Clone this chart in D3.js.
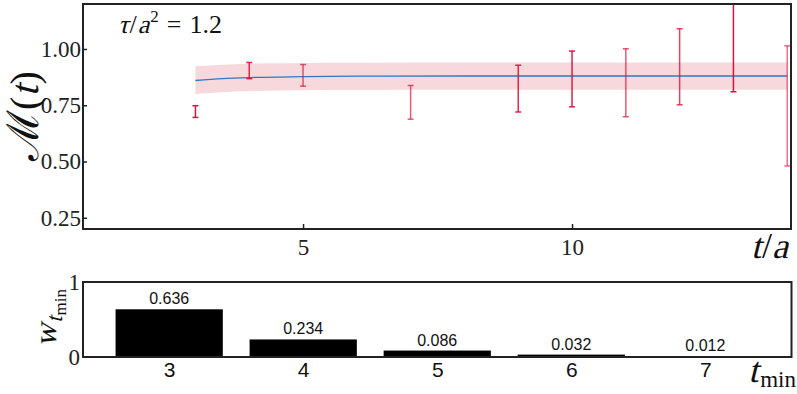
<!DOCTYPE html>
<html>
<head>
<meta charset="utf-8">
<script src="https://cdn.jsdelivr.net/npm/d3@7.9.0/dist/d3.min.js"></script>
<style>
  body { margin: 0; background: #fff; }
  svg { display: block; }
</style>
</head>
<body>
<svg id="chart" width="797" height="394"></svg>
<script>
// measured points
const tVals = [3, 4, 5, 7, 9, 10, 11, 12, 13, 14];
const mVals = [0.722, 0.904, 0.883, 0.763, 0.824, 0.867, 0.850, 0.921, 1.03, 0.747];
const mErrs = [0.026, 0.036, 0.048, 0.075, 0.104, 0.124, 0.151, 0.169, 0.22, 0.267];
const barAlpha = [1, 0.9, 0.7, 0.7, 0.9, 0.95, 0.7, 0.8, 1, 0.6];

// fit band
const fitT = [3, 3.5, 4, 5, 6, 8, 10, 12, 14];
const fitMid = [0.860, 0.868, 0.873, 0.877, 0.879, 0.880, 0.880, 0.880, 0.880];
const fitLo = [0.800, 0.808, 0.813, 0.817, 0.818, 0.819, 0.819, 0.819, 0.819];
const fitHi = [0.923, 0.930, 0.935, 0.938, 0.939, 0.940, 0.940, 0.940, 0.940];

// weights per t_min
const tMin = [3, 4, 5, 6, 7];
const weights = [0.636, 0.234, 0.086, 0.032, 0.012];
const weightLabels = ['0.636', '0.234', '0.086', '0.032', '0.012'];

const topXTicks = [5, 10];
const topYTicks = [0.25, 0.50, 0.75, 1.00];

const SERIF = '"Liberation Serif", "DejaVu Serif", serif';
const SANS = '"Liberation Sans", "DejaVu Sans", sans-serif';

const svg = d3.select('#chart');
const frameColor = '#222';

// lays out math-ish label pieces; italic pieces get a skew since no serif italic face is around
function mathLabel(parts, x, y, anchor, rot) {
  const g = svg.append('g');
  let cx = 0;
  parts.forEach(p => {
    const t = g.append('text')
      .attr('font-family', SERIF)
      .attr('font-size', p.size)
      .attr('fill', '#111')
      .text(p.s);
    const w = t.node().getComputedTextLength();
    t.attr('transform', `translate(${cx},${p.dy || 0})` + (p.it ? ' skewX(-14)' : ''));
    cx += w + (p.gap || 0);
  });
  const off = anchor === 'end' ? -cx : anchor === 'middle' ? -cx / 2 : 0;
  g.attr('transform', `translate(${x},${y}) rotate(${rot || 0}) translate(${off},0)`);
  return g;
}

// ---------- top panel ----------
const x = d3.scaleLinear().domain([0.91, 14.07]).range([83, 791]);
const y = d3.scaleLinear().domain([0.2, 1.2]).range([229, 4]);

svg.append('clipPath').attr('id', 'clipTop')
  .append('rect').attr('x', 83).attr('y', 4).attr('width', 708).attr('height', 225);

const plot = svg.append('g').attr('clip-path', 'url(#clipTop)');

const fit = fitT.map((t, i) => ({ t, mid: fitMid[i], lo: fitLo[i], hi: fitHi[i] }));

plot.append('path')
  .datum(fit)
  .attr('d', d3.area().x(d => x(d.t)).y0(d => y(d.lo)).y1(d => y(d.hi)).curve(d3.curveMonotoneX))
  .attr('fill', '#f7d9dd');

plot.append('path')
  .datum(fit)
  .attr('d', d3.line().x(d => x(d.t)).y(d => y(d.mid)).curve(d3.curveMonotoneX))
  .attr('fill', 'none')
  .attr('stroke', '#2a7bc0')
  .attr('stroke-width', 1.3);

const pts = tVals.map((t, i) => ({ t, m: mVals[i], e: mErrs[i], a: barAlpha[i] }));
const eb = plot.selectAll('g.eb').data(pts).join('g')
  .attr('class', 'eb')
  .attr('stroke', '#dc143c')
  .attr('stroke-opacity', d => d.a)
  .attr('stroke-width', 1.5);
eb.append('line')
  .attr('x1', d => x(d.t)).attr('x2', d => x(d.t))
  .attr('y1', d => y(d.m - d.e)).attr('y2', d => y(d.m + d.e));
eb.append('line')
  .attr('x1', d => x(d.t) - 3).attr('x2', d => x(d.t) + 3)
  .attr('y1', d => y(d.m - d.e)).attr('y2', d => y(d.m - d.e));
eb.append('line')
  .attr('x1', d => x(d.t) - 3).attr('x2', d => x(d.t) + 3)
  .attr('y1', d => y(d.m + d.e)).attr('y2', d => y(d.m + d.e));

// axes (inward ticks)
const xAxisTop = svg.append('g').attr('transform', 'translate(0,229)')
  .call(d3.axisBottom(x).tickValues(topXTicks).tickSizeInner(-5).tickSizeOuter(0).tickPadding(10));
xAxisTop.attr('font-family', SERIF).attr('font-size', 23);
xAxisTop.select('.domain').remove();
xAxisTop.selectAll('text').attr('fill', '#222');
xAxisTop.selectAll('line').attr('stroke', frameColor).attr('stroke-width', 1.5);

const yAxisTop = svg.append('g').attr('transform', 'translate(83,0)')
  .call(d3.axisLeft(y).tickValues(topYTicks).tickFormat(d3.format('.2f')).tickSizeInner(-4).tickSizeOuter(0).tickPadding(2));
yAxisTop.attr('font-family', SERIF).attr('font-size', 23);
yAxisTop.select('.domain').remove();
yAxisTop.selectAll('text').attr('fill', '#222');
yAxisTop.selectAll('line').attr('stroke', frameColor).attr('stroke-width', 1.5);

svg.append('rect').attr('x', 83).attr('y', 4).attr('width', 708).attr('height', 225)
  .attr('fill', 'none').attr('stroke', frameColor).attr('stroke-width', 2);

// title  τ/a² = 1.2
mathLabel([
  { s: 'τ', it: true, size: 26, gap: 1 },
  { s: '/', size: 26, gap: 1 },
  { s: 'a', it: true, size: 26, gap: 1 },
  { s: '2', size: 17, dy: -11, gap: 8 },
  { s: '=', size: 26, gap: 8 },
  { s: '1.2', size: 26 }
], 118, 33, 'start');

// y label  ℳ(t)
mathLabel([
  { s: 'ℳ', size: 44 },
  { s: '(', size: 40 },
  { s: 't', it: true, size: 40, gap: 1 },
  { s: ')', size: 40 }
], 38, 116, 'middle', -90);

// x label  t/a
mathLabel([
  { s: 't', it: true, size: 36, gap: 1 },
  { s: '/', size: 36 },
  { s: 'a', it: true, size: 36, gap: 2 }
], 790, 258, 'end');

// ---------- bottom panel ----------
const xb = d3.scaleLinear().domain([2.357, 7.643]).range([83, 791.5]);
const yb = d3.scaleLinear().domain([0, 1]).range([357, 282]);
const bw = 0.8;

const bars = tMin.map((t, i) => ({ t, w: weights[i], lab: weightLabels[i] }));

svg.selectAll('rect.bar').data(bars).join('rect')
  .attr('class', 'bar')
  .attr('x', d => xb(d.t - bw / 2))
  .attr('width', d => xb(d.t + bw / 2) - xb(d.t - bw / 2))
  .attr('y', d => yb(d.w))
  .attr('height', d => yb(0) - yb(d.w))
  .attr('fill', '#000');

svg.selectAll('text.blab').data(bars).join('text')
  .attr('class', 'blab')
  .attr('font-family', SANS)
  .attr('x', d => xb(d.t))
  .attr('y', d => yb(d.w) - 5)
  .attr('text-anchor', 'middle')
  .attr('font-size', 16).attr('fill', '#111')
  .text(d => d.lab);

const xAxisB = svg.append('g').attr('transform', 'translate(0,357)')
  .call(d3.axisBottom(xb).tickValues(tMin).tickFormat(d3.format('d')).tickSize(0).tickPadding(5));
xAxisB.attr('font-family', SANS).attr('font-size', 21);
xAxisB.select('.domain').remove();
xAxisB.selectAll('text').attr('fill', '#111');

const yAxisB = svg.append('g').attr('transform', 'translate(83,0)')
  .call(d3.axisLeft(yb).tickValues([0, 1]).tickFormat(d3.format('d')).tickSize(0).tickPadding(3));
yAxisB.attr('font-family', SERIF).attr('font-size', 23);
yAxisB.select('.domain').remove();
yAxisB.selectAll('text').attr('fill', '#222');

svg.append('rect').attr('x', 83).attr('y', 282).attr('width', 708.5).attr('height', 75)
  .attr('fill', 'none').attr('stroke', frameColor).attr('stroke-width', 2);

// bottom y label  w_{t_min}
mathLabel([
  { s: 'w', it: true, size: 32, gap: 1 },
  { s: 't', it: true, size: 23, dy: 6, gap: 1 },
  { s: 'min', size: 17, dy: 10 }
], 56, 318, 'middle', -90);

// bottom x label  t_min
mathLabel([
  { s: 't', it: true, size: 36, gap: 2 },
  { s: 'min', size: 23, dy: 5 }
], 796, 382, 'end');
</script>
</body>
</html>
